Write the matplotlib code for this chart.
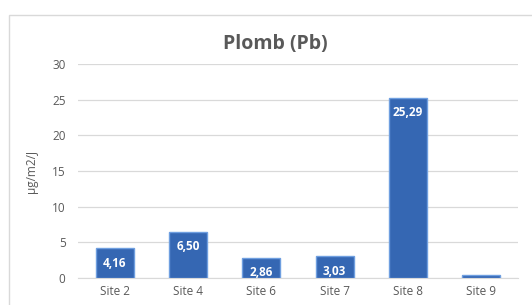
import matplotlib.pyplot as plt
from matplotlib.patches import Rectangle

sites = ["Site 2", "Site 4", "Site 6", "Site 7", "Site 8", "Site 9"]
values = [4.16, 6.50, 2.86, 3.03, 25.29, 0.45]
labels = ["4,16", "6,50", "2,86", "3,03", "25,29", ""]
y_ticks = [0, 5, 10, 15, 20, 25, 30]

TEXT_COLOR = "#595959"
GRID_COLOR = "#d9d9d9"
BAR_COLOR = "#3567b3"
BAR_EDGE = "#6f9fe0"

plt.rcParams["font.family"] = ["Open Sans", "DejaVu Sans"]

fig = plt.figure(figsize=(5.32, 3.05), dpi=100)
fig.patches.append(
    Rectangle((9 / 532, -0.01), 1.0, 1 - 15 / 305 + 0.01,
              transform=fig.transFigure, facecolor="white",
              edgecolor=GRID_COLOR, linewidth=1.0, zorder=-1)
)

ax = fig.add_axes([78 / 532, 27 / 305, 440 / 532, 214 / 305])
ax.set_facecolor("none")

x = list(range(len(sites)))
bars = ax.bar(x, values, width=0.52, color=BAR_COLOR,
              edgecolor=BAR_EDGE, linewidth=1.0, zorder=3)

for rect, text in zip(bars, labels):
    if not text:
        continue
    ax.annotate(text, (rect.get_x() + rect.get_width() / 2, rect.get_height()),
                xytext=(0, -11), textcoords="offset points",
                ha="center", va="center", color="white",
                fontsize=8.5, fontweight="bold", zorder=4)

ax.set_xlim(-0.5, len(sites) - 0.5)
ax.set_ylim(0, 30)
ax.set_yticks(y_ticks)
ax.set_xticks(x)
ax.set_xticklabels(sites)
ax.yaxis.grid(True, color=GRID_COLOR, linewidth=0.9, zorder=0)
ax.set_axisbelow(True)
for side in ["top", "right", "left"]:
    ax.spines[side].set_visible(False)
ax.spines["bottom"].set_color(GRID_COLOR)
ax.tick_params(axis="both", length=0, labelsize=8.5, colors=TEXT_COLOR)
ax.tick_params(axis="y", pad=9)
ax.tick_params(axis="x", pad=5)

ax.set_ylabel("µg/m2/J", fontsize=8.5, color=TEXT_COLOR, labelpad=10)
fig.text(275 / 532, 1 - 44 / 305, "Plomb (Pb)", ha="center", va="center",
         fontsize=14, fontweight="bold", color=TEXT_COLOR)

fig.savefig("out.png", dpi=100)
